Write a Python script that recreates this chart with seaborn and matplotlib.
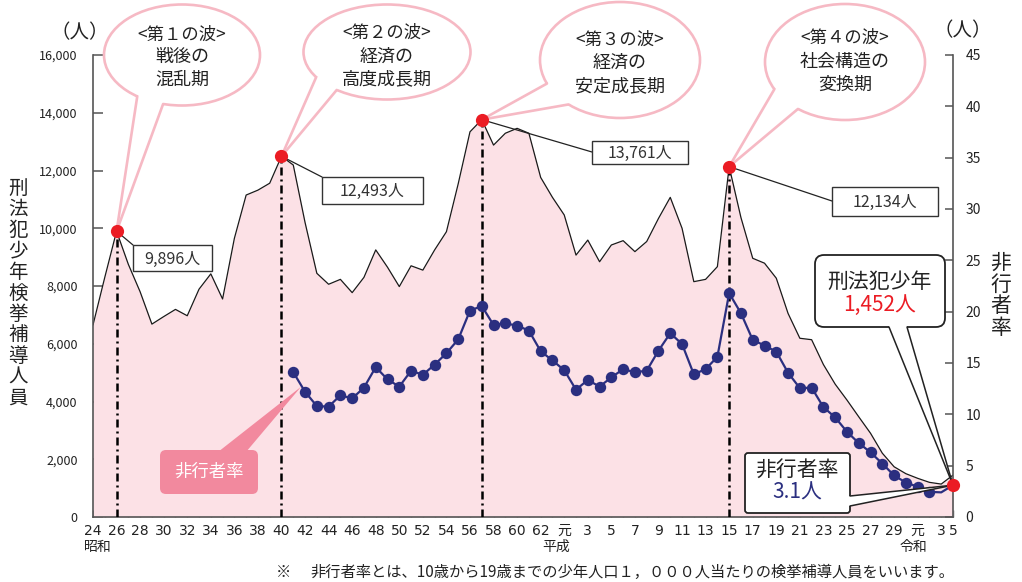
import numpy as np
import pandas as pd
import matplotlib
matplotlib.use("Agg")
import matplotlib.pyplot as plt
from matplotlib.patches import Ellipse, Polygon, FancyBboxPatch, Rectangle
import seaborn as sns

W, H = 1022, 582

# ---- data -------------------------------------------------------------
# one slot per year: 昭和24 (1949) ... 令和3 (2021), then 令和5 (2023)
year_idx = list(range(74))

# 刑法犯少年 検挙補導人員 (人)
offenders = [
    6650, 8300, 9896, 8750, 7800, 6680, 6940, 7190, 6970, 7890,
    8420, 7550, 9650, 11150, 11320, 11560, 12493, 12190, 10200, 8440,
    8060, 8230, 7770, 8300, 9250, 8650, 7980, 8700, 8550, 9250,
    9880, 11540, 13340, 13761, 12880, 13290, 13460, 13290, 11760, 11070,
    10460, 9070, 9590, 8840, 9420, 9570, 9190, 9540, 10340, 11070,
    10000, 8150, 8230, 8670, 12134, 10370, 8960, 8790, 8270, 7050,
    6190, 6140, 5280, 4600, 4050, 3470, 2900, 2210, 1740, 1500,
    1340, 1200, 1140, 1452,
]

# 非行者率 (少年人口1,000人当たり), from 昭和41 (slot 17)
rate_start = 17
delinquency_rate = [
    14.1, 12.2, 10.8, 10.75, 11.85, 11.55, 12.6, 14.6, 13.4, 12.7,
    14.25, 13.85, 14.85, 15.95, 17.3, 20.1, 20.55, 18.7, 18.85, 18.65,
    18.15, 16.15, 15.25, 14.3, 12.4, 13.35, 12.7, 13.6, 14.4, 14.1,
    14.25, 16.2, 17.9, 16.85, 13.9, 14.4, 15.6, 21.8, 19.85, 17.25,
    16.7, 16.1, 14.05, 12.55, 12.6, 10.7, 9.7, 8.3, 7.2, 6.3,
    5.2, 4.05, 3.35, 2.95, 2.45, 2.4, 3.1,
]

tick_pos = list(range(0, 73, 2)) + [73]
tick_text = ["24", "26", "28", "30", "32", "34", "36", "38", "40", "42",
             "44", "46", "48", "50", "52", "54", "56", "58", "60", "62",
             "元", "3", "5", "7", "9", "11", "13", "15", "17", "19",
             "21", "23", "25", "27", "29", "元", "3", "5"]

era_names = ["昭和", "平成", "令和"]
era_pos = [0.4, 39.3, 69.6]

wave_idx = [2, 16, 33, 54]
wave_titles = ["<第１の波>", "<第２の波>", "<第３の波>", "<第４の波>"]
wave_lines = [["戦後の", "混乱期"], ["経済の", "高度成長期"],
              ["経済の", "安定成長期"], ["社会構造の", "変換期"]]

latest_count_text = "1,452人"
latest_rate_text = "3.1人"

# ---- style ------------------------------------------------------------
FILL = "#FCE1E6"
NAVY = "#2B2F80"
RED = "#EB1C24"
BUBBLE = "#F6B9C4"
TAG = "#F2899E"
AXIS = "#555555"
TXT = "#222222"

sns.set_theme(style="white")
plt.rcParams["font.family"] = ["Noto Sans CJK JP", "DejaVu Sans"]

fig = plt.figure(figsize=(W / 100, H / 100), dpi=100)
ax = fig.add_axes([93 / W, 1 - 517 / H, 860 / W, 462 / H])
ax2 = ax.twinx()
ax.set_zorder(1)
ax2.set_zorder(2)
ax2.patch.set_visible(False)

df = pd.DataFrame({"idx": year_idx, "offenders": offenders})
ax.fill_between(df["idx"], df["offenders"], 0, color=FILL, lw=0, zorder=1)
sns.lineplot(data=df, x="idx", y="offenders", ax=ax, color="#1a1a1a",
             lw=0.9, zorder=2)

# 波のピークから横軸までの一点鎖線
ax.vlines(wave_idx, 0, [offenders[i] for i in wave_idx], colors="black",
          linestyles=[(0, (3.2, 1.6, 0.8, 1.6))], lw=1.8, zorder=3)

rate_df = pd.DataFrame({"idx": year_idx[rate_start:], "rate": delinquency_rate})
sns.lineplot(data=rate_df, x="idx", y="rate", ax=ax2, color=NAVY, lw=1.6,
             marker="o", markersize=8.2, markeredgewidth=0,
             markevery=list(range(len(rate_df) - 2)), zorder=3)

ax.set_xlim(0, 73)
ax.set_ylim(0, 16000)
ax2.set_ylim(0, 45)
ax.set_xlabel("")
ax.set_ylabel("")
ax2.set_xlabel("")
ax2.set_ylabel("")

ax.set_yticks(range(0, 16001, 2000))
ax.set_yticklabels([f"{v:,}" for v in range(0, 16001, 2000)])
ax2.set_yticks(range(0, 46, 5))
ax2.set_yticklabels([str(v) for v in range(0, 46, 5)])
ax.set_xticks(year_idx)
lab = {p: t for p, t in zip(tick_pos, tick_text)}
ax.set_xticklabels([lab.get(i, "") for i in year_idx])

for s in ["top", "right"]:
    ax.spines[s].set_visible(False)
for s in ["top", "left", "bottom"]:
    ax2.spines[s].set_visible(False)
for s in ["left", "bottom"]:
    ax.spines[s].set_color(AXIS)
    ax.spines[s].set_linewidth(1.2)
ax2.spines["right"].set_color(AXIS)
ax2.spines["right"].set_linewidth(1.2)

ax.tick_params(axis="y", left=True, direction="in", length=7, width=1.1,
               color=AXIS, pad=11, labelsize=9, labelcolor=TXT)
ax.tick_params(axis="x", bottom=True, direction="in", length=5, width=1.0,
               color=AXIS, pad=5, labelsize=10, labelcolor=TXT)
ax2.tick_params(axis="y", right=True, direction="in", length=6, width=1.1,
                color=AXIS, pad=9, labelsize=10, labelcolor=TXT)
for t in ax.get_xticklabels():
    t.set_fontfamily(["DejaVu Sans", "Noto Sans CJK JP"])

# ---- annotation layer (pixel coordinates, y downward) ------------------
ov = fig.add_axes([0, 0, 1, 1], zorder=10)
ov.set_xlim(0, W)
ov.set_ylim(H, 0)
ov.axis("off")
ov.patch.set_visible(False)


def px(a, x, y):
    X, Y = a.transData.transform((x, y))
    return X, H - Y


def ellipse_pt(cx, cy, w, h, deg):
    t = np.deg2rad(deg)
    return cx + w / 2 * np.cos(t), cy + h / 2 * np.sin(t)


def speech_bubble(cx, cy, w, h, a1, a2, tip, title, lines, ys):
    ov.add_patch(Ellipse((cx, cy), w, h, fc="white", ec=BUBBLE, lw=1.9, zorder=3))
    p1 = ellipse_pt(cx, cy, w, h, a1)
    p2 = ellipse_pt(cx, cy, w, h, a2)
    ov.add_patch(Polygon([p1, tip, p2, (cx, cy)], closed=True, fc="white",
                         ec="none", zorder=4))
    for p in (p1, p2):
        ov.plot([p[0], tip[0]], [p[1], tip[1]], color=BUBBLE, lw=1.9,
                solid_capstyle="round", zorder=5)
    ov.text(cx, ys[0], title, ha="center", va="center", fontsize=12.5,
            color=TXT, zorder=6)
    for s, y in zip(lines, ys[1:]):
        ov.text(cx, y, s, ha="center", va="center", fontsize=13,
                color=TXT, zorder=6)


bubbles = [
    (182, 55, 156, 101, 125, 104, (35, 57, 80)),
    (387, 52, 167, 95, 148, 127, (33, 57, 79)),
    (620, 60, 160, 116, 156, 130, (40, 63, 86)),
    (845, 62, 160, 116, 152, 126, (38, 62, 85)),
]
peak_px = [px(ax, i, offenders[i]) for i in wave_idx]
for (cx, cy, w, h, a1, a2, ys), tip, ttl, ln in zip(bubbles, peak_px,
                                                    wave_titles, wave_lines):
    speech_bubble(cx, cy, w, h, a1, a2, tip, ttl, ln, ys)

# 各ピークの人数ボックス
value_boxes = [
    (133, 245, 79, 26, (133, 245)),
    (322, 177, 101, 27, (322, 177)),
    (592, 141, 96, 23, (592, 152)),
    (832, 187, 106, 29, (832, 201)),
]
for (x0, y0, bw, bh, anchor), tip, i in zip(value_boxes, peak_px, wave_idx):
    ov.plot([tip[0], anchor[0]], [tip[1], anchor[1]], color="#222", lw=0.9,
            zorder=5)
    ov.add_patch(Rectangle((x0, y0), bw, bh, fc="white", ec="#333", lw=1.0,
                           zorder=6))
    ov.text(x0 + bw / 2, y0 + bh / 2 + 1, f"{offenders[i]:,}人", ha="center",
            va="center", fontsize=11.5, color="#333", zorder=7)

# 最新値の吹き出し
end_px = px(ax2, year_idx[-1], delinquency_rate[-1])

ov.add_patch(FancyBboxPatch((815, 255), 130, 72,
                            boxstyle="round,pad=0,rounding_size=9",
                            fc="white", ec="#222", lw=1.3, zorder=6))
b1, b2 = (889, 327), (907, 327)
ov.add_patch(Polygon([(889, 322), b1, end_px, b2, (907, 322)], closed=True,
                     fc="white", ec="none", zorder=7))
for b in (b1, b2):
    ov.plot([b[0], end_px[0]], [b[1], end_px[1]], color="#222", lw=1.1,
            zorder=8)
ov.text(880, 282, "刑法犯少年", ha="center", va="center", fontsize=15,
        color=TXT, zorder=9)
ov.text(880, 305, latest_count_text, ha="center", va="center", fontsize=15,
        color=RED, zorder=9)

ov.add_patch(FancyBboxPatch((745, 453), 105, 60,
                            boxstyle="round,pad=0,rounding_size=3",
                            fc="white", ec="#222", lw=1.3, zorder=6))
c1, c2 = (850, 496), (850, 506)
ov.add_patch(Polygon([(846, 496), c1, end_px, c2, (846, 506)], closed=True,
                     fc="white", ec="none", zorder=7))
for c in (c1, c2):
    ov.plot([c[0], end_px[0]], [c[1], end_px[1]], color="#222", lw=1.1,
            zorder=8)
ov.text(797, 470, "非行者率", ha="center", va="center", fontsize=15,
        color=TXT, zorder=9)
ov.text(797, 493, latest_rate_text, ha="center", va="center", fontsize=15,
        color=NAVY, zorder=9)

# 非行者率のラベル
tag_tip = px(ax2, rate_start + 1, delinquency_rate[1])
tag_tip = (tag_tip[0] - 4, tag_tip[1] - 5)
ov.add_patch(Polygon([(218, 452), tag_tip, (246, 452)], closed=True, fc=TAG,
                     ec="none", zorder=4))
ov.add_patch(FancyBboxPatch((160, 450), 98, 44,
                            boxstyle="round,pad=0,rounding_size=6",
                            fc=TAG, ec="none", zorder=4))
ov.text(209, 472, "非行者率", ha="center", va="center", fontsize=12.5,
        color="white", zorder=5)

# 赤い点
ov.plot(wave_idx, [offenders[i] for i in wave_idx], "o", color=RED, ms=9.5,
        mew=0, transform=ax.transData, clip_on=False, zorder=12)
ov.plot([year_idx[-1]], [delinquency_rate[-1]], "o", color=RED, ms=9.5,
        mew=0, transform=ax2.transData, clip_on=False, zorder=12)

# 軸の見出し
ov.text(80, 33, "（人）", ha="center", va="center", fontsize=14, color=TXT)
ov.text(963, 31, "（人）", ha="center", va="center", fontsize=14, color=TXT)
for k, ch in enumerate("刑法犯少年検挙補導人員"):
    ov.text(18, 188 + k * 21, ch, ha="center", va="center", fontsize=14,
            color=TXT)
for k, ch in enumerate("非行者率"):
    ov.text(1001, 263 + k * 21.7, ch, ha="center", va="center", fontsize=15,
            color=TXT)

for name, p in zip(era_names, era_pos):
    x, _ = px(ax, p, 0)
    ov.text(x, 547, name, ha="center", va="center", fontsize=10, color=TXT)

ov.text(283, 572, "※", ha="center", va="center", fontsize=11, color=TXT)
ov.text(310, 572,
        "非行者率とは、10歳から19歳までの少年人口１，０００人当たりの検挙補導人員をいいます。",
        ha="left", va="center", fontsize=11, color=TXT)

fig.savefig("out.png", dpi=100)
